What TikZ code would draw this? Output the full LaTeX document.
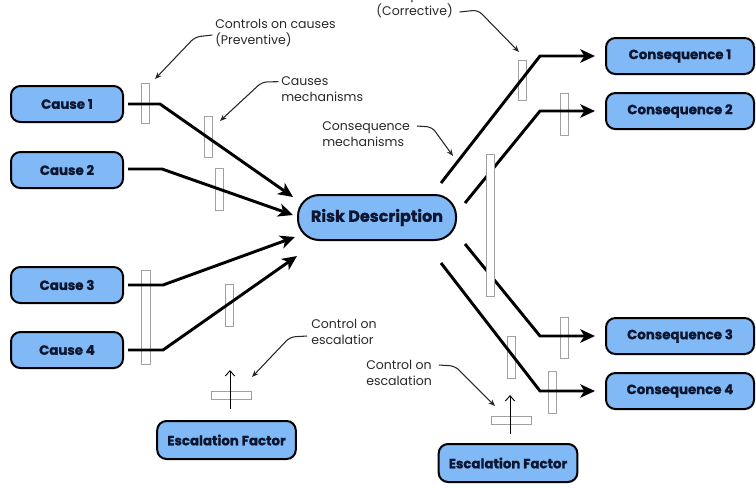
\documentclass[tikz,border=0pt]{standalone}
\usepackage{fontspec}
\setmainfont{Poppins}[BoldFeatures={FakeBold=1.2}]
\usetikzlibrary{arrows.meta,calc}
\definecolor{boxblue}{RGB}{128,185,245}
\definecolor{navy}{RGB}{12,22,48}
\definecolor{bargray}{RGB}{160,160,160}
\definecolor{leadgray}{RGB}{40,40,40}
\tikzset{
 box/.style={draw=black, line width=1.5pt, fill=boxblue, rounded corners=7pt, font=\bfseries\fontsize{10}{12}\selectfont, text=navy, inner sep=0pt, minimum height=27pt},
 causebox/.style={box, minimum width=84pt},
 consbox/.style={box, minimum width=111pt},
 escbox/.style={box, minimum width=104pt, minimum height=28.5pt},
 riskbox/.style={box, minimum width=118.5pt, minimum height=33.75pt, rounded corners=16pt, font=\bfseries\fontsize{12}{14}\selectfont},
 ctrlbar/.style={draw=bargray, fill=white, line width=0.7pt, inner sep=0pt, minimum width=6pt},
 hbar/.style={draw=bargray, fill=white, line width=0.7pt, inner sep=0pt, minimum width=30pt, minimum height=6pt},
 mainline/.style={line width=2.2pt, line join=miter},
 mainarrow/.style={mainline, -{Stealth[length=11pt, width=10pt, inset=3pt]}},
 leader/.style={draw=leadgray, line width=0.8pt, rounded corners=4pt, -{Stealth[length=5pt,width=4pt]}},
 lbl/.style={font=\fontsize{9.4}{12}\selectfont, text=leadgray, inner sep=0pt},
 escarrow/.style={line width=0.7pt, -{Straight Barb[length=4pt,width=7pt]}}
}
\begin{document}
\begin{tikzpicture}[x=0.75pt, y=-0.75pt]
\useasboundingbox (0,0) rectangle (756,487);
\clip (0,0) rectangle (756,487);

% main nodes
\node[causebox] (c1) at (67,104) {Cause 1};
\node[causebox] (c2) at (67,170) {Cause 2};
\node[causebox] (c3) at (67,285) {Cause 3};
\node[causebox] (c4) at (67,350) {Cause 4};
\node[riskbox] (risk) at (377,217.5) {Risk Description};
\node[consbox] (q1) at (680,56) {Consequence 1};
\node[consbox] (q2) at (680,111) {Consequence 2};
\node[consbox] (q3) at (680,336) {Consequence 3};
\node[consbox] (q4) at (680,391) {Consequence 4};
\node[escbox] (eL) at (226.5,440) {Escalation Factor};
\node[escbox] (eR) at (508,463) {Escalation Factor};

% control bars (under the lines)
\node[ctrlbar, minimum height=30pt] (b1) at (145,103) {};
\node[ctrlbar, minimum height=31pt] (b2) at (208,137) {};
\node[ctrlbar, minimum height=31pt] (b3) at (219,189.5) {};
\node[ctrlbar, minimum height=71pt, minimum width=6.5pt] (b4) at (146,317.5) {};
\node[ctrlbar, minimum height=31pt] (b5) at (229,305.5) {};
\node[ctrlbar, minimum height=30pt] (b6) at (522.5,80) {};
\node[ctrlbar, minimum height=31pt] (b7) at (564,114.5) {};
\node[ctrlbar, minimum height=31pt] (b9) at (564,338) {};
\node[ctrlbar, minimum height=31pt] (b10) at (511.5,357.5) {};
\node[ctrlbar, minimum height=31pt] (b11) at (552,392.5) {};
\node[hbar] (hL) at (231,395) {};
\node[hbar] (hR) at (511,420) {};

% cause connectors
\coordinate (k1) at (160,104); \coordinate (t1) at (293,197);
\coordinate (k2) at (162,169); \coordinate (t2) at (293,215);
\coordinate (k3) at (163,285); \coordinate (t3) at (295,237);
\coordinate (k4) at (163,350); \coordinate (t4) at (297,256);
\draw[mainarrow] ([xshift=3pt]c1.east) -- (k1) -- (t1);
\draw[mainarrow] ([xshift=3pt,yshift=0.75pt]c2.east) -- (k2) -- (t2);
\draw[mainarrow] ([xshift=3pt]c3.east) -- (k3) -- (t3);
\draw[mainarrow] ([xshift=3pt]c4.east) -- (k4) -- (t4);

% consequence connectors
\coordinate (s1) at (441,183); \coordinate (k5) at (540,56);
\coordinate (s2) at (465,203); \coordinate (k6) at (540,111);
\coordinate (s3) at (465,244); \coordinate (k7) at (540,336);
\coordinate (s4) at (441,263); \coordinate (k8) at (540,391);
\draw[mainarrow] (s1) -- (k5) -- ([xshift=-7.5pt]q1.west);
\draw[mainarrow] (s2) -- (k6) -- ([xshift=-7.5pt]q2.west);
\draw[mainarrow] (s3) -- (k7) -- ([xshift=-7.5pt]q3.west);
\draw[mainarrow] (s4) -- (k8) -- ([xshift=-7.5pt]q4.west);

% tall middle bar (over the lines)
\node[ctrlbar, minimum height=106pt] (b8) at (490.5,225.5) {};

% escalation arrows
\coordinate (aL1) at (230,409); \coordinate (aL2) at (230,370);
\coordinate (aR1) at (510,434); \coordinate (aR2) at (510,395);
\draw[escarrow] (aL1) -- (aL2);
\draw[escarrow] (aR1) -- (aR2);

% labels
\node[lbl, anchor=west, align=left] (lp) at (215,33) {Controls on causes\\(Preventive)};
\node[lbl, anchor=west, align=left] (lcm) at (281,89) {Causes\\mechanisms};
\node[lbl, anchor=east, align=right] (lcr) at (453,4) {Controls on consequence\\(Corrective)};
\node[lbl, anchor=west, align=left] (lqm) at (322,134) {Consequence\\mechanisms};
\node[lbl, anchor=west, align=left] (lel) at (311,332) {Control on\\escalatior};
\node[lbl, anchor=west, align=left] (ler) at (366,373) {Control on\\escalation};

% leaders
\coordinate (p1) at (195,37); \coordinate (p1t) at (155,79);
\coordinate (p2) at (262,82); \coordinate (p2t) at (220,121);
\coordinate (p3) at (478,10); \coordinate (p3t) at (519,52);
\coordinate (p4) at (432,127); \coordinate (p4t) at (453,156);
\coordinate (p5) at (290,337); \coordinate (p5t) at (252,377);
\coordinate (p6) at (455,366); \coordinate (p6t) at (495,406);
\draw[leader] ([xshift=-2pt,yshift=-1.5pt]lp.west) -- (p1) -- (p1t);
\draw[leader] ([xshift=-2pt,yshift=5.5pt]lcm.west) -- (p2) -- (p2t);
\draw[leader] ([xshift=5pt,yshift=-6pt]lcr.east) -- (p3) -- (p3t);
\draw[leader] ([xshift=5pt,yshift=6pt]lqm.east) -- (p4) -- (p4t);
\draw[leader] ([xshift=-3pt,yshift=-3pt]lel.west) -- (p5) -- (p5t);
\draw[leader] ([xshift=5pt,yshift=6pt]ler.east) -- (p6) -- (p6t);
\end{tikzpicture}
\end{document}
